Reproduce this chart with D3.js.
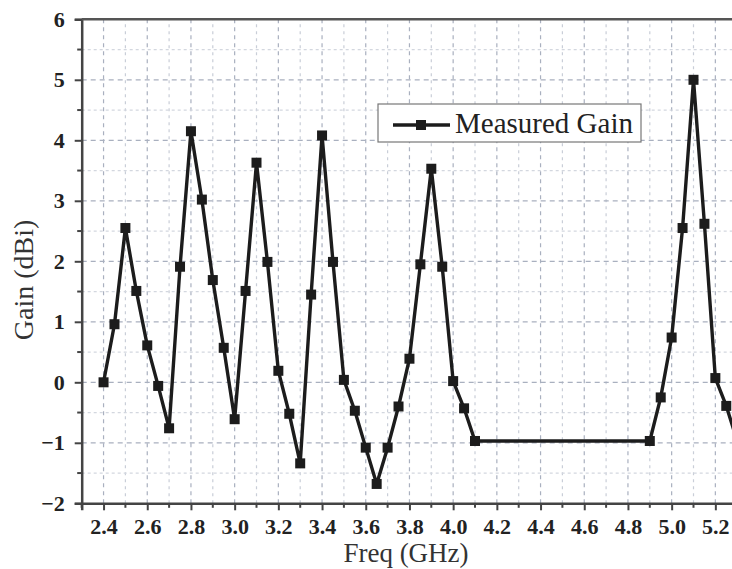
<!DOCTYPE html>
<html><head><meta charset="utf-8">
<script src="https://cdn.jsdelivr.net/npm/d3@7"></script>
<style>html,body{margin:0;padding:0;background:#fff;overflow:hidden}</style>
</head><body>
<svg id="c" width="732" height="569"></svg>
<script>
const freq = [2.4,2.45,2.5,2.55,2.6,2.65,2.7,2.75,2.8,2.85,2.9,2.95,3.0,3.05,3.1,3.15,3.2,3.25,3.3,3.35,3.4,3.45,3.5,3.55,3.6,3.65,3.7,3.75,3.8,3.85,3.9,3.95,4.0,4.05,4.1,4.9,4.95,5.0,5.05,5.1,5.15,5.2,5.25,5.3];
const gain = [0,0.96,2.55,1.51,0.61,-0.06,-0.76,1.91,4.15,3.02,1.69,0.57,-0.61,1.51,3.63,1.99,0.19,-0.52,-1.34,1.45,4.08,1.99,0.04,-0.47,-1.08,-1.68,-1.08,-0.40,0.39,1.95,3.53,1.91,0.02,-0.43,-0.97,-0.97,-0.25,0.74,2.55,5.0,2.62,0.07,-0.39,-0.97];
const xTicks = [2.4,2.6,2.8,3.0,3.2,3.4,3.6,3.8,4.0,4.2,4.4,4.6,4.8,5.0,5.2];
const yTicks = [-2,-1,0,1,2,3,4,5,6];
const seriesName = "Measured Gain";

const svg = d3.select("#c");
const x = d3.scaleLinear().domain([2.3,5.3]).range([81.7,737.2]);
const y = d3.scaleLinear().domain([-2,6]).range([503.3,19.3]);
const serif = "'Liberation Serif','Times New Roman',serif";

// grid
const xMinor = d3.range(2.4,5.31,0.1).map(v=>+v.toFixed(2));
const yMinor = d3.range(-1.5,6,0.5).map(v=>+v.toFixed(2));
const g = svg.append("g");
xMinor.forEach(v=>{
  const major = xTicks.some(t=>Math.abs(t-v)<1e-6);
  g.append("line").attr("x1",x(v)).attr("x2",x(v)).attr("y1",y(-2)).attr("y2",y(6))
   .attr("stroke", major?"#a9b0bf":"#c9ced8").attr("stroke-width",1.2)
   .attr("stroke-dasharray", major?"4,4":"3,4");
});
yMinor.forEach(v=>{
  const major = Number.isInteger(v);
  g.append("line").attr("x1",x(2.3)).attr("x2",x(5.3)).attr("y1",y(v)).attr("y2",y(v))
   .attr("stroke", major?"#a9b0bf":"#d3d7df").attr("stroke-width",1.2)
   .attr("stroke-dasharray", major?"5,4":"3,3");
});

// axes
const xAxis = d3.axisBottom(x).tickValues(xTicks).tickFormat(d3.format(".1f")).tickSize(7).tickPadding(8);
const gx = svg.append("g").attr("transform",`translate(0,${y(-2)})`).call(xAxis);
const xMinorOnly = xMinor.filter(v=>!xTicks.some(t=>Math.abs(t-v)<1e-6)).concat([2.3]);
gx.selectAll(".mt").data(xMinorOnly).join("line").attr("class","mt")
  .attr("x1",d=>x(d)).attr("x2",d=>x(d)).attr("y1",0).attr("y2",4.5).attr("stroke","#444").attr("stroke-width",2);
const yAxis = d3.axisLeft(y).tickValues(yTicks).tickFormat(d3.format("d")).tickSize(7).tickPadding(10);
const gy = svg.append("g").attr("transform",`translate(${x(2.3)},0)`).call(yAxis);
gy.selectAll(".mt").data(yMinor.filter(v=>!Number.isInteger(v))).join("line").attr("class","mt")
  .attr("x1",0).attr("x2",-4.5).attr("y1",d=>y(d)).attr("y2",d=>y(d)).attr("stroke","#444").attr("stroke-width",2);
[gx,gy].forEach(a=>{
  a.attr("font-family",serif);
  a.select(".domain").attr("stroke","#444").attr("stroke-width",2.5);
  a.selectAll(".tick line").attr("stroke","#444").attr("stroke-width",2);
  a.selectAll(".tick text").attr("font-family",serif)
    .attr("font-weight","bold").attr("font-size",22).attr("fill","#222");
});
// top border
svg.append("line").attr("x1",x(2.3)).attr("x2",x(5.3)).attr("y1",y(6)).attr("y2",y(6))
  .attr("stroke","#555").attr("stroke-width",2.5);

// series
const data = freq.map((f,i)=>({f, v:gain[i]}));
svg.append("path").datum(data)
  .attr("d", d3.line().x(d=>x(d.f)).y(d=>y(d.v)))
  .attr("fill","none").attr("stroke","#1c1c1c").attr("stroke-width",3.4).attr("stroke-linejoin","round");
svg.selectAll(".pt").data(data).join("rect").attr("class","pt")
  .attr("x",d=>x(d.f)-5).attr("y",d=>y(d.v)-5).attr("width",10).attr("height",10).attr("fill","#1c1c1c");

// legend
const lg = svg.append("g");
lg.append("rect").attr("x",378).attr("y",104).attr("width",263).attr("height",38)
  .attr("fill","#fff").attr("stroke","#777").attr("stroke-width",1.2);
lg.append("line").attr("x1",393).attr("x2",450).attr("y1",125).attr("y2",125).attr("stroke","#1c1c1c").attr("stroke-width",3.4);
lg.append("rect").attr("x",421-5).attr("y",125-5).attr("width",10).attr("height",10).attr("fill","#1c1c1c");
lg.append("text").attr("x",455).attr("y",133).text(seriesName)
  .attr("font-family",serif).attr("font-size",29).attr("fill","#222");

// titles
svg.append("text").attr("x",406).attr("y",562).attr("text-anchor","middle").text("Freq (GHz)")
  .attr("font-family",serif).attr("font-size",27).attr("fill","#333");
svg.append("text").attr("transform","translate(33,280) rotate(-90)").attr("text-anchor","middle").text("Gain (dBi)")
  .attr("font-family",serif).attr("font-size",28).attr("fill","#333");
</script>
</body></html>
